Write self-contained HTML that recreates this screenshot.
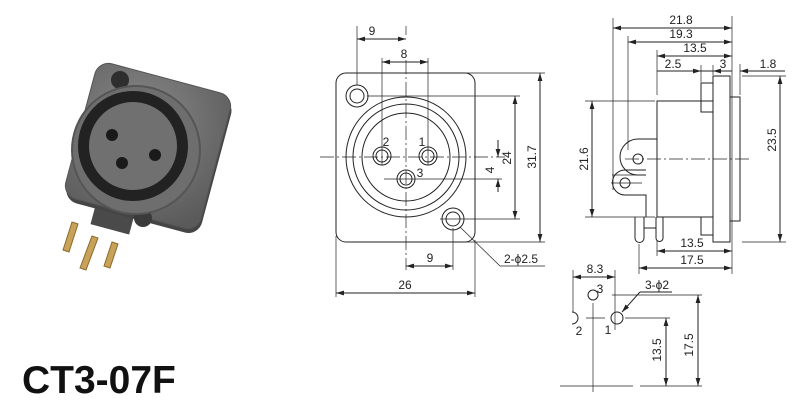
<!DOCTYPE html>
<html><head><meta charset="utf-8"><style>
html,body{margin:0;padding:0;background:#fff;}
svg{display:block;}
text{font-family:"Liberation Sans",sans-serif;fill:#222;}
</style></head><body>
<svg width="800" height="410" viewBox="0 0 800 410" xmlns="http://www.w3.org/2000/svg">
<defs>
<marker id="a" viewBox="0 0 10 6" refX="10" refY="3" markerWidth="8" markerHeight="5" orient="auto-start-reverse"><path d="M0,0 L10,3 L0,6z" fill="#222"/></marker>
<radialGradient id="g" cx="0.4" cy="0.35" r="0.8"><stop offset="0" stop-color="#8a8a8a"/><stop offset="1" stop-color="#5a5a5a"/></radialGradient>
</defs>

<!-- Photo -->
<g>
<polygon points="63,250 72,222 78,224 69,252" fill="#c9a25a" stroke="#8a6a2a" stroke-width="1"/>
<polygon points="80,268 92,236 98,238 86,270" fill="#c9a25a" stroke="#8a6a2a" stroke-width="1"/>
<polygon points="104,266 112,242 118,244 110,268" fill="#c9a25a" stroke="#8a6a2a" stroke-width="1"/>
<rect x="95" y="190" width="40" height="40" fill="#4a4a4a" transform="rotate(15 115 210)"/>
<g transform="rotate(15 148 146)">
<rect x="80" y="80" width="140" height="140" rx="14" fill="#454545"/>
<rect x="78" y="76" width="140" height="140" rx="14" fill="url(#g)" stroke="#555" stroke-width="1"/>
</g>
<circle cx="120" cy="80" r="9" fill="#2e2e2e"/>
<circle cx="143" cy="218" r="9" fill="#3a3a3a"/>
<circle cx="136" cy="150" r="64" fill="#6e6e6e" stroke="#555" stroke-width="2"/>
<circle cx="133" cy="146" r="55" fill="#222"/>
<circle cx="133" cy="146" r="44" fill="#707070"/>
<circle cx="112" cy="135" r="6" fill="#1a1a1a"/>
<circle cx="155" cy="155" r="6" fill="#1a1a1a"/>
<circle cx="122" cy="163" r="6" fill="#1a1a1a"/>
</g>
<text x="22" y="393" font-size="39" font-weight="bold" style="fill:#111">CT3-07F</text>

<g stroke="#222" stroke-width="1" fill="none">
<!-- Front view -->
<rect x="336" y="73" width="139" height="169" rx="10"/>
<circle cx="357" cy="96" r="11"/><circle cx="357" cy="96" r="7"/>
<circle cx="453" cy="219" r="11"/><circle cx="453" cy="219" r="7"/>
<circle cx="406" cy="157" r="60"/><circle cx="406" cy="157" r="53"/><circle cx="406" cy="157" r="44"/>
<circle cx="382" cy="156" r="9"/><circle cx="382" cy="156" r="6"/>
<circle cx="428" cy="156" r="9"/><circle cx="428" cy="156" r="6"/>
<circle cx="406" cy="179" r="9"/><circle cx="406" cy="179" r="6"/>
<g stroke-width="0.7">
<line x1="320" y1="157" x2="505" y2="157" stroke-dasharray="14,3,2,3"/>
<line x1="406" y1="60" x2="406" y2="270" stroke-dasharray="14,3,2,3"/>
<line x1="384" y1="179" x2="502" y2="179"/>
<line x1="357" y1="26" x2="357" y2="85"/>
<line x1="406" y1="26" x2="406" y2="35"/>
<line x1="382" y1="58" x2="382" y2="165"/>
<line x1="428" y1="58" x2="428" y2="165"/>
<line x1="367" y1="96" x2="520" y2="96"/>
<line x1="440" y1="219" x2="520" y2="219"/>
<line x1="460" y1="73" x2="545" y2="73"/>
<line x1="460" y1="242" x2="545" y2="242"/>
<line x1="453" y1="228" x2="453" y2="270"/>
<line x1="336" y1="236" x2="336" y2="297"/>
<line x1="475" y1="240" x2="475" y2="297"/>
<line x1="460" y1="227" x2="500" y2="266"/>
<line x1="500" y1="266" x2="545" y2="266"/>
</g>
<line x1="357" y1="39" x2="406" y2="39" marker-start="url(#a)" marker-end="url(#a)"/>
<line x1="382" y1="62" x2="428" y2="62" marker-start="url(#a)" marker-end="url(#a)"/>
<line x1="540" y1="73" x2="540" y2="242" marker-start="url(#a)" marker-end="url(#a)"/>
<line x1="515" y1="96" x2="515" y2="219" marker-start="url(#a)" marker-end="url(#a)"/>
<line x1="498" y1="140" x2="498" y2="157" marker-end="url(#a)"/>
<line x1="498" y1="192" x2="498" y2="179" marker-end="url(#a)"/>
<line x1="406" y1="266" x2="453" y2="266" marker-start="url(#a)" marker-end="url(#a)"/>
<line x1="336" y1="293" x2="475" y2="293" marker-start="url(#a)" marker-end="url(#a)"/>

<!-- Side view -->
<rect x="657" y="101" width="56" height="116"/>
<rect x="713" y="76" width="17" height="166"/>
<rect x="730" y="97" width="10" height="124"/>
<rect x="701" y="83" width="12" height="29"/>
<rect x="701" y="217" width="12" height="18"/>
<path d="M657,139 L638,139 A8,8 0 0 0 638,175 L646,175" />
<circle cx="638" cy="159" r="5"/>
<path d="M646,170 L625,170 A12,12 0 0 0 625,195 L646,195 L646,217"/>
<circle cx="625" cy="183" r="5"/>
<path d="M635,217 L635,238 A4.5,4.5 0 0 0 644,238 L644,217"/>
<path d="M644,228 L656,228 M656,217 L656,238 A3.5,3.5 0 0 0 663,238 L663,217"/>
<g stroke-width="0.7">
<line x1="625" y1="159" x2="752" y2="159" stroke-dasharray="14,3,2,3"/>
<line x1="613" y1="18" x2="613" y2="190"/>
<line x1="628" y1="36" x2="628" y2="150"/>
<line x1="657" y1="50" x2="657" y2="95"/>
<line x1="732" y1="16" x2="732" y2="274"/>
<line x1="740" y1="64" x2="740" y2="95"/>
<line x1="701" y1="65" x2="701" y2="82"/>
<line x1="713" y1="65" x2="713" y2="75"/>
<line x1="585" y1="101" x2="655" y2="101"/>
<line x1="585" y1="217" x2="655" y2="217"/>
<line x1="742" y1="76" x2="786" y2="76"/>
<line x1="742" y1="242" x2="786" y2="242"/>
<line x1="657" y1="240" x2="657" y2="256"/>
<line x1="639" y1="244" x2="639" y2="274"/>
<line x1="612" y1="175" x2="640" y2="175"/>
<line x1="611" y1="183" x2="642" y2="183"/>
</g>
<line x1="613" y1="28" x2="732" y2="28" marker-start="url(#a)" marker-end="url(#a)"/>
<line x1="628" y1="42" x2="732" y2="42" marker-start="url(#a)" marker-end="url(#a)"/>
<line x1="657" y1="56" x2="732" y2="56" marker-start="url(#a)" marker-end="url(#a)"/>
<line x1="657" y1="71" x2="701" y2="71" marker-end="url(#a)"/>
<line x1="701" y1="71" x2="713" y2="71"/>
<line x1="732" y1="71" x2="713" y2="71" marker-end="url(#a)"/>
<line x1="760" y1="71" x2="740" y2="71" marker-end="url(#a)"/>
<line x1="760" y1="71" x2="785" y2="71"/>
<line x1="592" y1="101" x2="592" y2="217" marker-start="url(#a)" marker-end="url(#a)"/>
<line x1="780" y1="76" x2="780" y2="242" marker-start="url(#a)" marker-end="url(#a)"/>
<line x1="657" y1="251" x2="732" y2="251" marker-start="url(#a)" marker-end="url(#a)"/>
<line x1="639" y1="268" x2="732" y2="268" marker-start="url(#a)" marker-end="url(#a)"/>

<!-- PCB layout -->
<circle cx="593" cy="295" r="5"/>
<circle cx="617" cy="318" r="6"/>
<path d="M572,312 A6,6 0 0 1 572,324"/>
<g stroke-width="0.7">
<line x1="593" y1="303" x2="593" y2="392"/>
<line x1="560" y1="386" x2="633" y2="386"/>
<line x1="573" y1="270" x2="573" y2="312"/>
<line x1="615" y1="270" x2="615" y2="330"/>
<line x1="586" y1="318" x2="605" y2="318"/>
<line x1="625" y1="318" x2="670" y2="318"/>
<line x1="612" y1="295" x2="702" y2="295"/>
<line x1="640" y1="386" x2="702" y2="386"/>
</g>
<line x1="640" y1="292" x2="622" y2="312" marker-end="url(#a)"/>
<line x1="640" y1="292" x2="672" y2="292"/>
<line x1="573" y1="277" x2="615" y2="277" marker-start="url(#a)" marker-end="url(#a)"/>
<line x1="666" y1="318" x2="666" y2="386" marker-start="url(#a)" marker-end="url(#a)"/>
<line x1="698" y1="295" x2="698" y2="386" marker-start="url(#a)" marker-end="url(#a)"/>
</g>

<g font-size="12">
<text x="372" y="35" text-anchor="middle">9</text>
<text x="404" y="58" text-anchor="middle">8</text>
<text x="386" y="146" text-anchor="middle">2</text>
<text x="422" y="146" text-anchor="middle">1</text>
<text x="420" y="177" text-anchor="middle">3</text>
<text x="430" y="262" text-anchor="middle">9</text>
<text x="405" y="289" text-anchor="middle">26</text>
<text x="504" y="263">2-ϕ2.5</text>
<text transform="translate(494,170) rotate(-90)" text-anchor="middle">4</text>
<text transform="translate(511,158) rotate(-90)" text-anchor="middle">24</text>
<text transform="translate(536,157) rotate(-90)" text-anchor="middle">31.7</text>
<text x="681" y="24" text-anchor="middle">21.8</text>
<text x="681" y="38" text-anchor="middle">19.3</text>
<text x="695" y="52" text-anchor="middle">13.5</text>
<text x="673" y="68" text-anchor="middle">2.5</text>
<text x="723" y="68" text-anchor="middle">3</text>
<text x="768" y="68" text-anchor="middle">1.8</text>
<text transform="translate(588,159) rotate(-90)" text-anchor="middle">21.6</text>
<text transform="translate(776,140) rotate(-90)" text-anchor="middle">23.5</text>
<text x="692" y="247" text-anchor="middle">13.5</text>
<text x="692" y="264" text-anchor="middle">17.5</text>
<text x="595" y="273" text-anchor="middle">8.3</text>
<text x="600" y="293" text-anchor="middle">3</text>
<text x="608" y="334" text-anchor="middle">1</text>
<text x="579" y="335" text-anchor="middle">2</text>
<text x="645" y="289">3-ϕ2</text>
<text transform="translate(661,350) rotate(-90)" text-anchor="middle">13.5</text>
<text transform="translate(693,345) rotate(-90)" text-anchor="middle">17.5</text>
</g>
</svg>
</body></html>
